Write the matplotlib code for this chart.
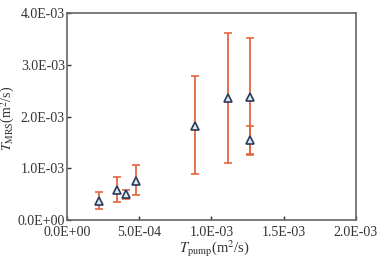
import matplotlib
matplotlib.use("Agg")
import matplotlib.pyplot as plt
from matplotlib.ticker import FuncFormatter

plt.rcParams['font.family'] = ['Liberation Serif', 'DejaVu Serif']
plt.rcParams['mathtext.fontset'] = 'stix'

# данные (м2/с)
t_pump = [2.19e-4, 3.48e-4, 4.06e-4, 4.78e-4, 8.84e-4, 1.112e-3, 1.271e-3, 1.271e-3]
t_mrs = [0.367e-3, 0.58e-3, 0.497e-3, 0.76e-3, 1.82e-3, 2.36e-3, 2.38e-3, 1.546e-3]
t_low = [0.21e-3, 0.355e-3, 0.406e-3, 0.477e-3, 0.88e-3, 1.107e-3, 1.25e-3, 1.275e-3]
t_high = [0.535e-3, 0.825e-3, 0.58e-3, 1.063e-3, 2.78e-3, 3.62e-3, 3.51e-3, 1.82e-3]

err_lo = [m - l for m, l in zip(t_mrs, t_low)]
err_hi = [h - m for m, h in zip(t_mrs, t_high)]

fig = plt.figure(figsize=(3.91, 2.61), dpi=100)
ax = fig.add_axes([0.171, 0.157, 0.739, 0.793])

ax.errorbar(t_pump, t_mrs, yerr=[err_lo, err_hi], fmt='none',
            ecolor='#e2673f', elinewidth=1.3, capsize=3.2, capthick=1.2, zorder=2)
ax.plot(t_pump, t_mrs, '^', ms=5.5, mfc='#dde9f0', mec='#2a3a5a', mew=1.2, zorder=3)

ax.set_xlim(0, 2e-3)
ax.set_ylim(0, 4e-3)
ax.set_xticks([0, 5e-4, 1e-3, 1.5e-3, 2e-3])
ax.set_yticks([0, 1e-3, 2e-3, 3e-3, 4e-3])

def sci(v, pos):
    return '%.1E' % v

ax.xaxis.set_major_formatter(FuncFormatter(sci))
ax.yaxis.set_major_formatter(FuncFormatter(sci))
ax.tick_params(direction='in', length=3, width=1, labelsize=10, colors='#333333', pad=1.5)
ax.tick_params(axis='x', pad=4)
ax.tick_params(top=False, right=False)
for s in ax.spines.values():
    s.set_color('#666666')
    s.set_linewidth(1.2)

ax.set_xlabel(r'$T_{\rm pump}$(m$^2$/s)', fontsize=10.5, color='#333333')
ax.set_ylabel(r'$T_{\rm MRS}$(m$^2$/s)', fontsize=10, color='#333333')
ax.xaxis.set_label_coords(0.51, -0.09)
ax.yaxis.set_label_coords(-0.172, 0.49)

fig.savefig('out.png', dpi=100)
